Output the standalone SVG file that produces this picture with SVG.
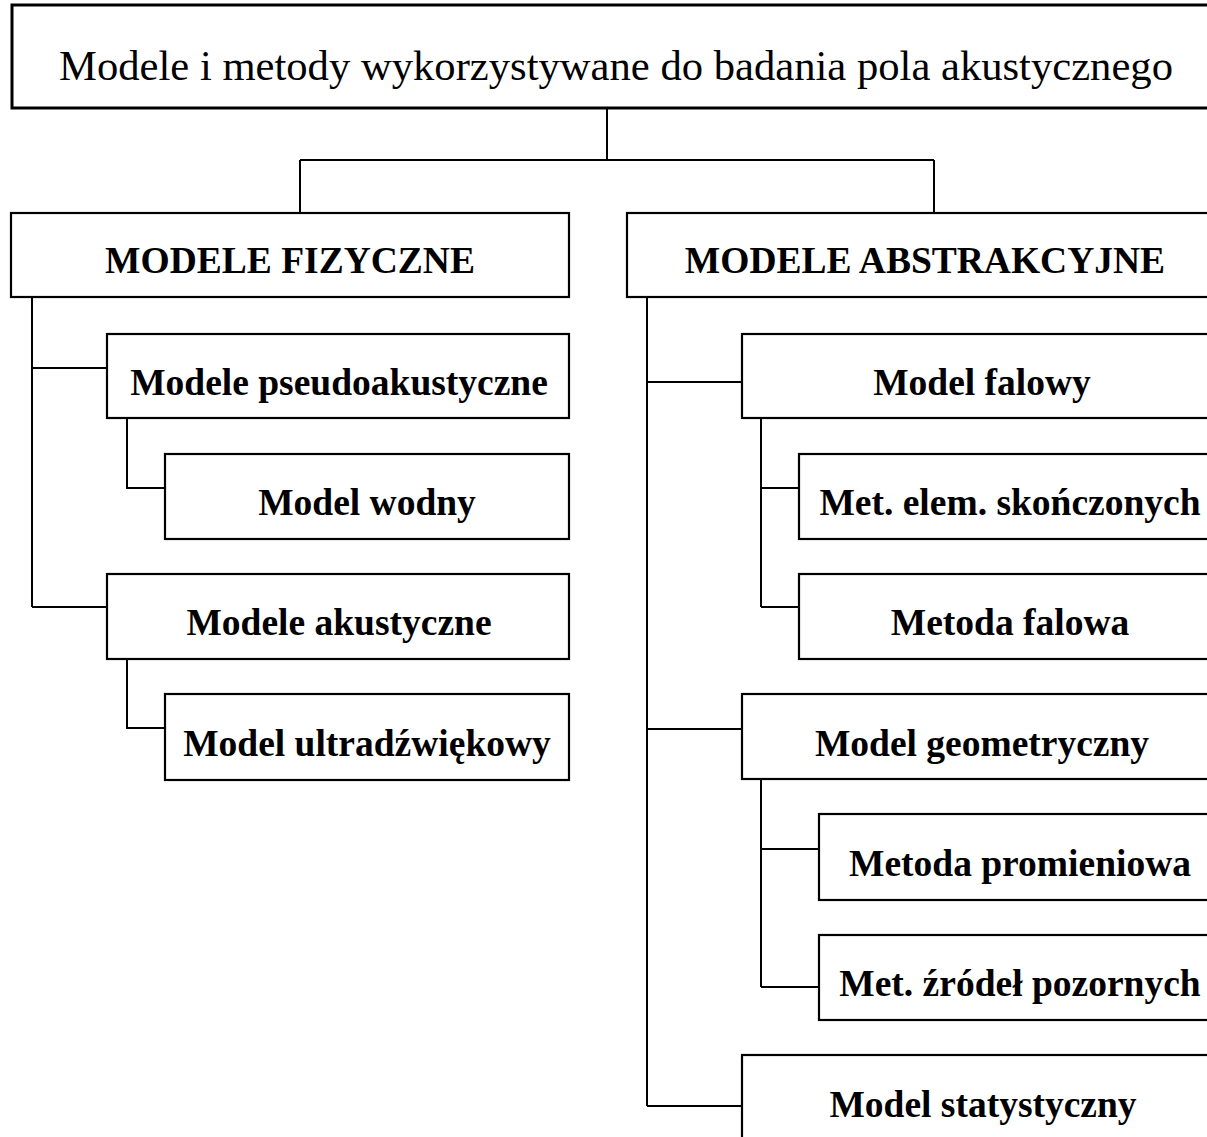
<svg xmlns="http://www.w3.org/2000/svg" width="1207" height="1137" viewBox="0 0 1207 1137">
<style>
.box{fill:#fff;stroke:#000;stroke-width:2.2}
.title{fill:#fff;stroke:#000;stroke-width:3}
.t{font-family:"Liberation Serif","Times New Roman",serif;font-size:37.5px;font-weight:bold;fill:#000;text-anchor:middle}
.tt{font-family:"Liberation Serif","Times New Roman",serif;font-size:42.5px;fill:#000;text-anchor:middle}
.c{fill:none;stroke:#000;stroke-width:2}
</style>
<rect width="1207" height="1137" fill="#fff"/>
<g id="connectors">
<path class="c" d="M607 108V160M300 160H934M300 160V213M934 160V213"/>
<path class="c" d="M32 297V607M32 368H107M32 607H107"/>
<path class="c" d="M127 418V488H165M127 659V728H165"/>
<path class="c" d="M647 297V1106M647 382H742M647 729H742M647 1106H742"/>
<path class="c" d="M761 418V607M761 488H799M761 607H799"/>
<path class="c" d="M761 779V987M761 849H819M761 987H819"/>
</g>
<g id="root"><rect class="title" x="12" y="5" width="1212" height="103"/><text class="tt" x="616" y="80" textLength="1114" lengthAdjust="spacingAndGlyphs">Modele i metody wykorzystywane do badania pola akustycznego</text></g>
<g id="fizyczne"><rect class="box" x="11" y="213" width="558" height="84"/><text class="t" x="290" y="273">MODELE FIZYCZNE</text></g>
<g id="pseudo"><rect class="box" x="107" y="334" width="462" height="84"/><text class="t" x="339" y="395">Modele pseudoakustyczne</text></g>
<g id="wodny"><rect class="box" x="165" y="454" width="404" height="85"/><text class="t" x="367" y="515">Model wodny</text></g>
<g id="akustyczne"><rect class="box" x="107" y="574" width="462" height="85"/><text class="t" x="339" y="635">Modele akustyczne</text></g>
<g id="ultra"><rect class="box" x="165" y="694" width="404" height="86"/><text class="t" x="367" y="756">Model ultradźwiękowy</text></g>
<g id="abstrakcyjne"><rect class="box" x="627" y="213" width="600" height="84"/><text class="t" x="925" y="273">MODELE ABSTRAKCYJNE</text></g>
<g id="falowy"><rect class="box" x="742" y="334" width="485" height="84"/><text class="t" x="982" y="395">Model falowy</text></g>
<g id="mes"><rect class="box" x="799" y="454" width="428" height="85"/><text class="t" x="1010" y="515">Met. elem. skończonych</text></g>
<g id="mfalowa"><rect class="box" x="799" y="574" width="428" height="85"/><text class="t" x="1010" y="635">Metoda falowa</text></g>
<g id="geometryczny"><rect class="box" x="742" y="694" width="485" height="85"/><text class="t" x="982" y="756">Model geometryczny</text></g>
<g id="promieniowa"><rect class="box" x="819" y="814" width="408" height="86"/><text class="t" x="1020" y="876">Metoda promieniowa</text></g>
<g id="zrodel"><rect class="box" x="819" y="935" width="408" height="85"/><text class="t" x="1020" y="996">Met. źródeł pozornych</text></g>
<g id="statystyczny"><rect class="box" x="742" y="1055" width="485" height="100"/><text class="t" x="983" y="1117">Model statystyczny</text></g>
</svg>
